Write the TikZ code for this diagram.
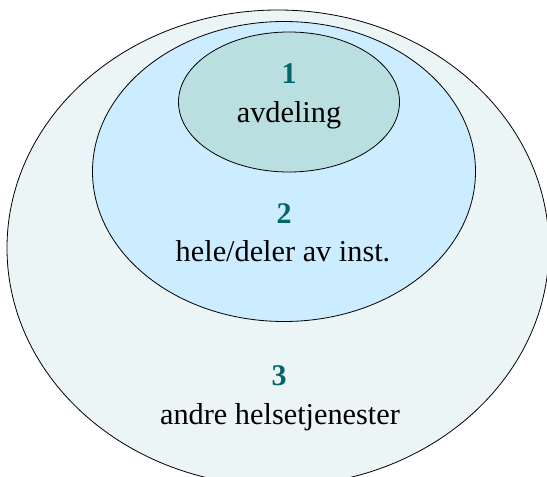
\documentclass[tikz,border=0pt]{standalone}
\usepackage{fontspec}
\setmainfont{Liberation Serif}
\definecolor{outerfill}{RGB}{235,245,246}
\definecolor{midfill}{RGB}{204,236,255}
\definecolor{innerfill}{RGB}{185,223,225}
\definecolor{numteal}{RGB}{0,102,102}
\tikzset{
  ring/.style={draw=black, line width=0.8pt},
  num/.style={anchor=base, font=\fontsize{30}{30}\selectfont\bfseries, text=numteal, inner sep=0pt},
  lbl/.style={anchor=base, font=\fontsize{30.3}{30.3}\selectfont, text=black, inner sep=0pt}
}
\begin{document}
\begin{tikzpicture}[x=1pt,y=-1pt]
\useasboundingbox (0,0) rectangle (547,477);
\clip (0,0) rectangle (547,477);
\draw[ring, fill=outerfill] (278,248) ellipse [x radius=271, y radius=238];
\draw[ring, fill=midfill] (284,171.5) ellipse [x radius=191.5, y radius=150];
\draw[ring, fill=innerfill] (289,102) ellipse [x radius=110.5, y radius=70];
\node[num] (n1) at (289,83) {1};
\node[lbl] (l1) at (289,122) {avdeling};
\node[num] (n2) at (284,223) {2};
\node[lbl] (l2) at (283,261.5) {hele/deler av inst.};
\node[num] (n3) at (279,385) {3};
\node[lbl] (l3) at (280,424) {andre helsetjenester};
\end{tikzpicture}
\end{document}
